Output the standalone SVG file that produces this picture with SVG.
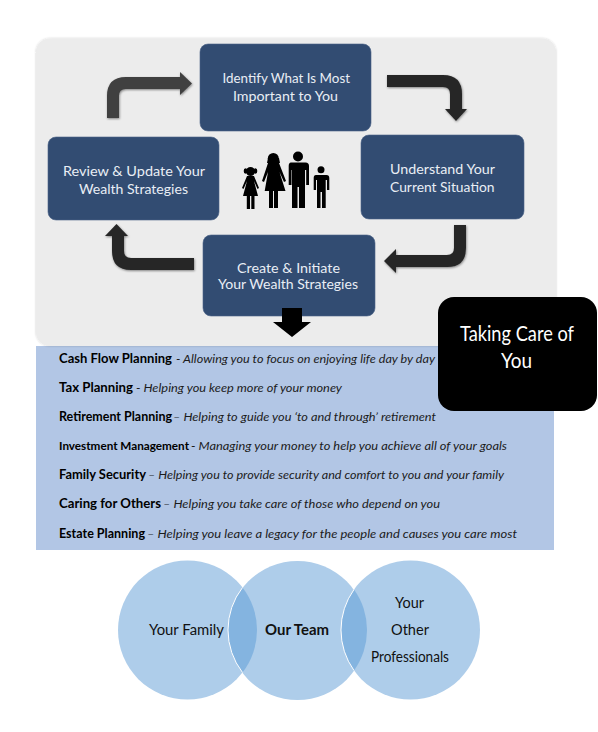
<svg xmlns="http://www.w3.org/2000/svg" width="598" height="732" viewBox="0 0 598 732">
<style>
text{font-family:"Lato","Open Sans","Liberation Sans",sans-serif}
.node{fill:#324c72;stroke:#4a6286;stroke-width:.6}
.nt{font-size:13px;fill:#e9eef5}
.h{font-size:14px;font-weight:700;fill:#000}
.d{font-size:11px;font-style:italic;fill:#1c1c1c}
.ct{font-size:14.500px;fill:#111}
.ar{filter:url(#sh)}
.fig{fill:#000}
.lap{fill:#84b4e0}
.circ{fill:#aecdea}
</style>
<defs>
<filter id="sh" x="-20%" y="-20%" width="140%" height="140%"><feDropShadow dx="0.6" dy="1" stdDeviation="0.9" flood-color="#000" flood-opacity="0.45"/></filter>
<filter id="sp" x="-5%" y="-5%" width="110%" height="110%"><feDropShadow dx="0" dy="0" stdDeviation="0.8" flood-color="#000" flood-opacity="0.2"/></filter>
</defs>
<rect id="list-panel" x="36" y="346" width="518" height="204" fill="#b2c6e5"/>
<rect id="process-panel" x="36" y="38.500" width="520" height="307.500" rx="14" fill="#ececec" filter="url(#sp)"/>
<g id="node-identify"><rect class="node" x="200" y="44" width="171" height="87" rx="8"/>
<text class="nt" x="222.500" y="83" textLength="127.500" lengthAdjust="spacingAndGlyphs">Identify What Is Most</text>
<text class="nt" x="233" y="101" textLength="105" lengthAdjust="spacingAndGlyphs">Important to You</text></g>
<g id="node-review"><rect class="node" x="48" y="137" width="171" height="83" rx="8"/>
<text class="nt" x="63" y="176" textLength="142" lengthAdjust="spacingAndGlyphs">Review &amp; Update Your</text>
<text class="nt" x="79" y="194" textLength="109" lengthAdjust="spacingAndGlyphs">Wealth Strategies</text></g>
<g id="node-understand"><rect class="node" x="361" y="135" width="163" height="84" rx="8"/>
<text class="nt" x="390" y="174" textLength="105" lengthAdjust="spacingAndGlyphs">Understand Your</text>
<text class="nt" x="390" y="192" textLength="104.500" lengthAdjust="spacingAndGlyphs">Current Situation</text></g>
<g id="node-create"><rect class="node" x="203" y="235" width="172" height="81" rx="8"/>
<text class="nt" x="237" y="273" textLength="103" lengthAdjust="spacingAndGlyphs">Create &amp; Initiate</text>
<text class="nt" x="218" y="289" textLength="140" lengthAdjust="spacingAndGlyphs">Your Wealth Strategies</text></g>
<g id="connectors">
<path class="ar" fill="#404040" d="M107 118V96Q107 77 126 77H180V72L192 83.500L180 95V89H126Q119 89 119 96V118Z"/>
<path class="ar" fill="#262626" d="M387 75H443Q462 75 462 94V109H467L456 121L445 109H450V94Q450 87 443 87H387Z"/>
<path class="ar" fill="#262626" d="M454 225H466V248Q466 267 447 267H396V273L384 261L396 249V255H447Q454 255 454 248Z"/>
<path class="ar" fill="#262626" d="M194 258V270H131Q112 270 112 251V236H105L116.500 224L128 236H124V251Q124 258 131 258Z"/>
<path fill="#000" d="M282 308H302V322H311L292 337L273 322H282Z"/>
</g>
<g id="family" class="fig">
<circle cx="250.500" cy="171.500" r="4.500"/><ellipse cx="245.500" cy="171" rx="1.800" ry="2.800"/><ellipse cx="255.500" cy="171" rx="1.800" ry="2.800"/>
<path d="M247 176H254L259 188L257.500 189L254 181L258 196H254.500V209H251.300V196H250V209H246.800V196H243L247 181L243.500 189L242 188Z"/>
<circle cx="273.300" cy="158.500" r="5.500"/><path d="M268 158H279L280 163H267Z"/>
<path d="M268 163H279L286 181L284 182L279.500 172L285.500 191H278V208H274V191H273V208H269V191H264.700L268 172L264 182L262 181Z"/>
<circle cx="298" cy="156.500" r="5"/>
<path d="M291 162.500H305.500Q309 162.500 309 166V185H306.200V170H305V208H299V187H297.500V208H292V170H291.500V185H288.700V166Q288.700 162.500 291 162.500Z"/>
<circle cx="321" cy="169.700" r="3.500"/>
<path d="M316 175H326.500Q329.300 175 329.300 178V190H327V180H325.700V208H322V192H320.500V208H317V180H316V190H313.700V178Q313.700 175 316 175Z"/>
</g>
<g id="taking-care"><rect x="438" y="297" width="159" height="114" rx="16" fill="#000"/>
<text x="460" y="341" font-size="21" fill="#fff" textLength="114" lengthAdjust="spacingAndGlyphs">Taking Care of</text>
<text x="501" y="368" font-size="21" fill="#fff" textLength="31" lengthAdjust="spacingAndGlyphs">You</text></g>
<g id="services">
<text class="h" x="59" y="363" textLength="113" lengthAdjust="spacingAndGlyphs">Cash Flow Planning</text>
<text class="d" x="176" y="363" textLength="259" lengthAdjust="spacingAndGlyphs">- Allowing you to focus on enjoying life day by day</text>
<text class="h" x="59" y="392" textLength="74" lengthAdjust="spacingAndGlyphs">Tax Planning</text>
<text class="d" x="136" y="392" textLength="206" lengthAdjust="spacingAndGlyphs">- Helping you keep more of your money</text>
<text class="h" x="59" y="421" textLength="113" lengthAdjust="spacingAndGlyphs">Retirement Planning</text>
<text class="d" x="173" y="421" textLength="263" lengthAdjust="spacingAndGlyphs">– Helping to guide you ‘to and through’ retirement</text>
<text class="h" x="59" y="450" textLength="130" lengthAdjust="spacingAndGlyphs" style="font-size:12px">Investment Management</text>
<text class="d" x="191" y="450" textLength="316" lengthAdjust="spacingAndGlyphs">- Managing your money to help you achieve all of your goals</text>
<text class="h" x="59" y="479" textLength="87" lengthAdjust="spacingAndGlyphs">Family Security</text>
<text class="d" x="148" y="479" textLength="356" lengthAdjust="spacingAndGlyphs">– Helping you to provide security and comfort to you and your family</text>
<text class="h" x="59" y="508" textLength="102" lengthAdjust="spacingAndGlyphs">Caring for Others</text>
<text class="d" x="163" y="508" textLength="277" lengthAdjust="spacingAndGlyphs">– Helping you take care of those who depend on you</text>
<text class="h" x="59" y="538" textLength="86" lengthAdjust="spacingAndGlyphs">Estate Planning</text>
<text class="d" x="147" y="538" textLength="370" lengthAdjust="spacingAndGlyphs">– Helping you leave a legacy for the people and causes you care most</text>
</g>
<g id="circle-family"><circle class="circ" cx="187.500" cy="630" r="69.500"/></g>
<g id="circle-team"><circle class="circ" cx="297.500" cy="630.500" r="69.500"/></g>
<g id="circle-others"><circle class="circ" cx="410.500" cy="630" r="69.500"/></g>
<g id="overlaps">
<path class="lap" d="M242.500 587.500A69.500 69.500 0 0 1 242.500 672.500A69.500 69.500 0 0 1 242.500 587.500Z"/>
<path class="lap" d="M354 589.500A69.500 69.500 0 0 1 354 670.500A69.500 69.500 0 0 1 354 589.500Z"/>
<path fill="none" stroke="#fff" stroke-width="1" d="M242.500 672.500A69.500 69.500 0 0 1 242.500 587.500M354 670.500A69.500 69.500 0 0 1 354 589.500"/>
</g>
<text class="ct" x="149" y="635" textLength="75" lengthAdjust="spacingAndGlyphs">Your Family</text>
<text class="ct" x="265" y="635" textLength="64" lengthAdjust="spacingAndGlyphs" style="font-weight:700">Our Team</text>
<text class="ct" x="395" y="608" textLength="29" lengthAdjust="spacingAndGlyphs">Your</text>
<text class="ct" x="391" y="635" textLength="38" lengthAdjust="spacingAndGlyphs">Other</text>
<text class="ct" x="371" y="662" textLength="78" lengthAdjust="spacingAndGlyphs">Professionals</text>
</svg>
